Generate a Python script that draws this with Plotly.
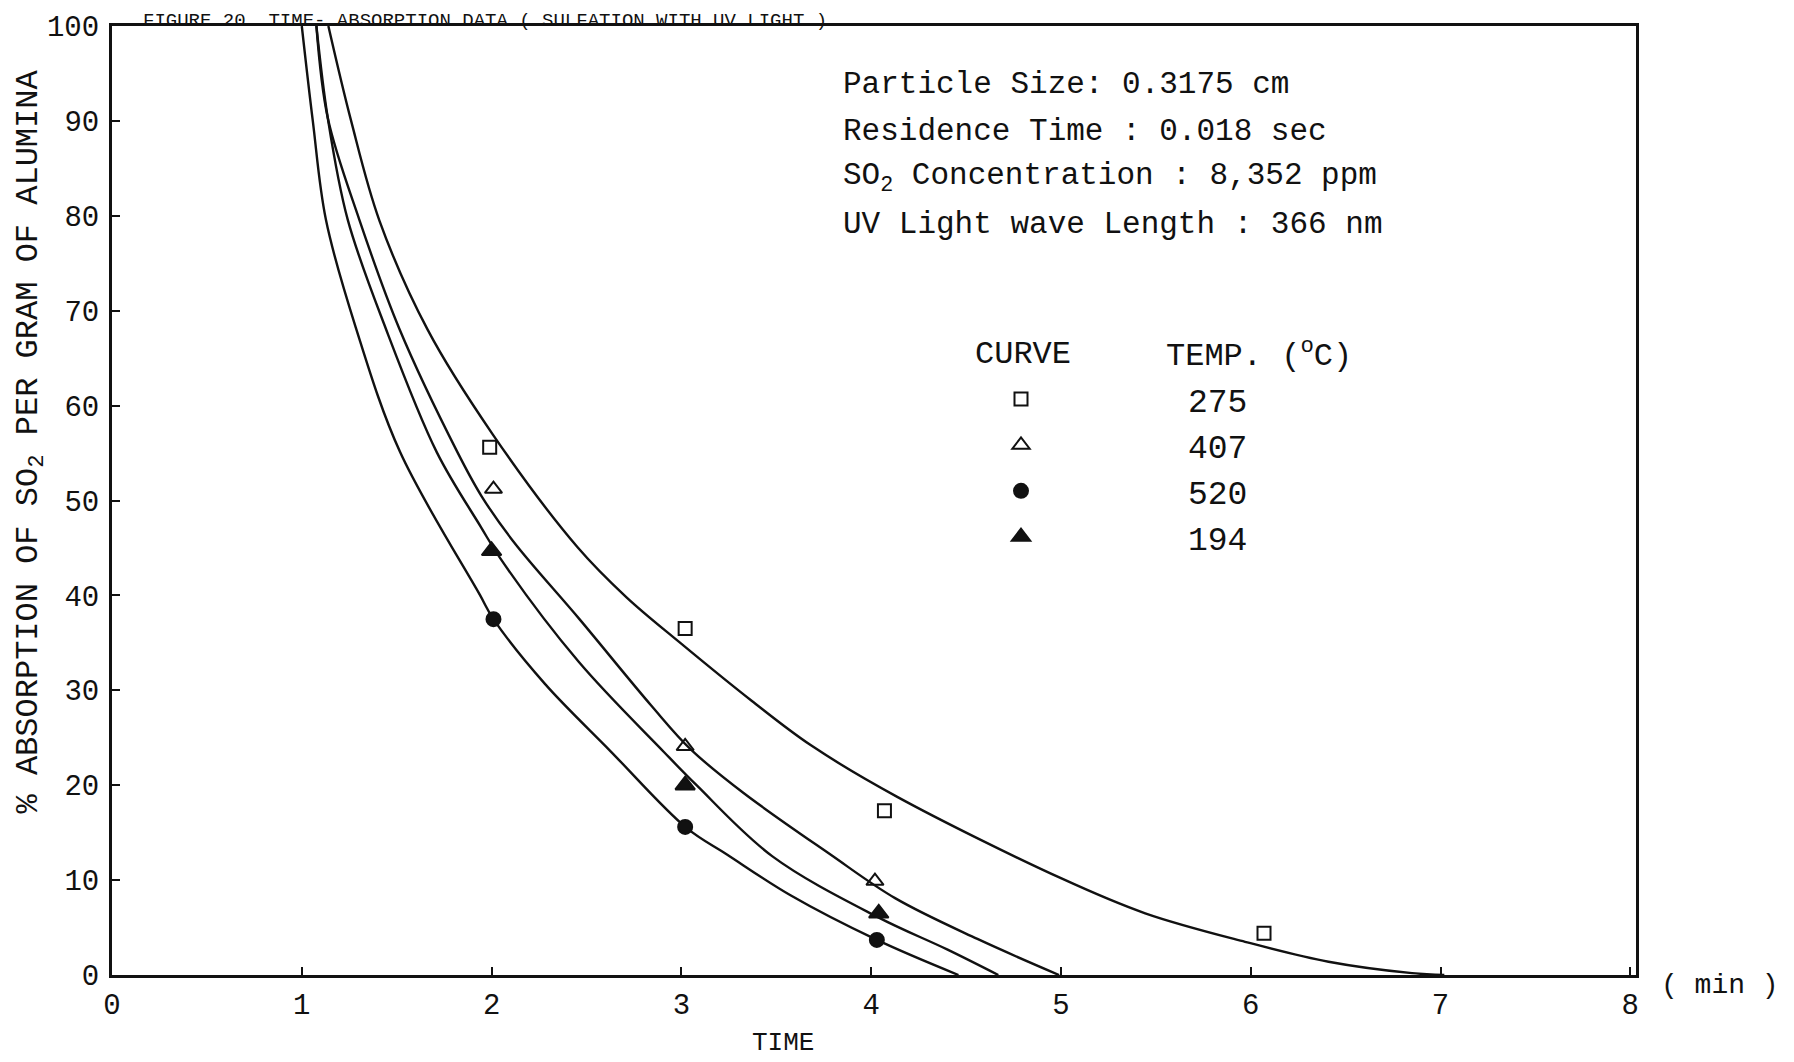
import plotly.graph_objects as go

# ---------------- data ----------------
# Smooth fitted curves (time in min, % absorption)
curve_275_x = [1.14, 1.26, 1.409, 1.663, 2.005, 2.452, 2.711, 2.988, 3.37, 3.683, 4.135, 5.0, 5.444, 5.97, 6.41, 6.85, 7.02]
curve_275_y = [100, 90.0, 79.5, 68.0, 57.0, 45.1, 39.8, 35.1, 28.9, 24.2, 18.8, 10.2, 6.5, 3.5, 1.4, 0.2, 0.0]

curve_407_x = [1.077, 1.137, 1.303, 1.514, 1.82, 1.946, 2.118, 2.463, 2.841, 3.048, 3.326, 3.778, 4.126, 4.56, 4.99]
curve_407_y = [100, 90.3, 79.6, 68.1, 55.1, 50.5, 45.6, 37.5, 28.4, 23.8, 19.2, 12.8, 8.1, 3.8, 0.0]

curve_194_x = [1.077, 1.137, 1.242, 1.443, 1.711, 1.944, 2.046, 2.459, 2.908, 3.08, 3.48, 4.035, 4.40, 4.67]
curve_194_y = [100, 90.3, 79.6, 68.1, 55.1, 47.2, 43.9, 33.0, 23.5, 20.0, 12.5, 6.1, 2.7, 0.0]

curve_520_x = [1.0, 1.058, 1.127, 1.285, 1.518, 1.937, 2.01, 2.28, 2.626, 3.027, 3.24, 3.575, 4.03, 4.46]
curve_520_y = [100, 90.0, 79.6, 68.2, 55.1, 40.1, 37.5, 30.7, 23.6, 15.5, 12.7, 8.4, 3.7, 0.0]

# Measured points
pts_275_x = [1.99, 3.02, 4.07, 6.07]
pts_275_y = [55.6, 36.5, 17.3, 4.4]
pts_407_x = [2.01, 3.02, 4.02]
pts_407_y = [51.2, 24.1, 9.9]
pts_520_x = [2.01, 3.02, 4.03]
pts_520_y = [37.5, 15.6, 3.7]
pts_194_x = [2.00, 3.02, 4.04]
pts_194_y = [44.7, 20.0, 6.5]

x_ticks = [0, 1, 2, 3, 4, 5, 6, 7, 8]
y_ticks = [0, 10, 20, 30, 40, 50, 60, 70, 80, 90, 100]

info_lines = [
    "Particle Size: 0.3175 cm",
    "Residence Time : 0.018 sec",
    "SO<sub>2</sub> Concentration : 8,352 ppm",
    "UV Light wave Length : 366 nm",
]

FONT = "Liberation Mono, Courier New, monospace"
INK = "#111111"

fig = go.Figure()

for cx, cy in [(curve_275_x, curve_275_y), (curve_407_x, curve_407_y),
               (curve_194_x, curve_194_y), (curve_520_x, curve_520_y)]:
    fig.add_trace(go.Scatter(x=cx, y=cy, mode="lines", showlegend=False,
                             line=dict(color=INK, width=2.4, shape="spline", smoothing=1.0),
                             hoverinfo="skip"))

marker_sets = [
    ("275", pts_275_x, pts_275_y, "square-open", 13),
    ("407", pts_407_x, pts_407_y, "triangle-up-open", 15),
    ("520", pts_520_x, pts_520_y, "circle", 14),
    ("194", pts_194_x, pts_194_y, "triangle-up", 17),
]
for name, px, py, sym, sz in marker_sets:
    fig.add_trace(go.Scatter(x=px, y=py, mode="markers", name=name,
                             marker=dict(symbol=sym, size=sz, color=INK,
                                         line=dict(color=INK, width=2))))

W, H = 1794, 1062
L, R, T, B = 112, 158, 18, 87
pw = W - L - R
ph = H - T - B


def px2paper_x(xp):
    return (xp - L) / pw


def px2paper_y(yp):
    return (H - B - yp) / ph


IW = 324
fig.update_layout(
    width=W, height=H,
    margin=dict(l=L, r=R, t=T, b=B),
    paper_bgcolor="white", plot_bgcolor="white",
    font=dict(family=FONT, color=INK, size=29),
    showlegend=True,
    legend=dict(
        x=px2paper_x(1022 - 6 - IW / 2), y=px2paper_y(366),
        xanchor="left", yanchor="top",
        bgcolor="rgba(0,0,0,0)",
        font=dict(family=FONT, size=33, color=INK),
        itemwidth=IW,
        tracegroupgap=0,
    ),
)

fig.update_xaxes(
    range=[0, 8.03], tickvals=x_ticks, ticktext=[str(v) for v in x_ticks],
    showline=True, linecolor=INK, linewidth=3, mirror=True,
    ticks="inside", ticklen=8, tickwidth=2, tickcolor=INK,
    showgrid=False, zeroline=False,
    tickfont=dict(family=FONT, size=29, color=INK),
    ticklabelstandoff=1,
)
fig.update_yaxes(
    range=[0, 100], tickvals=y_ticks, ticktext=[str(v) for v in y_ticks],
    showline=True, linecolor=INK, linewidth=3, mirror=True,
    ticks="inside", ticklen=8, tickwidth=2, tickcolor=INK,
    showgrid=False, zeroline=False,
    tickfont=dict(family=FONT, size=29, color=INK),
    ticklabelstandoff=4,
)

annotations = []
# info block
for i, line in enumerate(info_lines):
    annotations.append(dict(
        text=line, xref="paper", yref="paper",
        x=px2paper_x(841), y=px2paper_y(77 + 47 * i),
        xanchor="left", yanchor="middle", showarrow=False,
        font=dict(family=FONT, size=31, color=INK)))

# legend headers
annotations.append(dict(
    text="CURVE", xref="paper", yref="paper",
    x=px2paper_x(973), y=px2paper_y(349),
    xanchor="left", yanchor="middle", showarrow=False,
    font=dict(family=FONT, size=32, color=INK)))
annotations.append(dict(
    text="TEMP. (<sup>o</sup>C)", xref="paper", yref="paper",
    x=px2paper_x(1164), y=px2paper_y(349),
    xanchor="left", yanchor="middle", showarrow=False,
    font=dict(family=FONT, size=32, color=INK)))

# axis titles
annotations.append(dict(
    text="% ABSORPTION OF SO<sub>2</sub> PER GRAM OF ALUMINA",
    xref="paper", yref="paper", x=px2paper_x(30), y=px2paper_y(437),
    xanchor="center", yanchor="middle", textangle=-90, showarrow=False,
    font=dict(family=FONT, size=32, color=INK)))
annotations.append(dict(
    text="TIME", xref="paper", yref="paper",
    x=px2paper_x(783), y=px2paper_y(1044),
    xanchor="center", yanchor="middle", showarrow=False,
    font=dict(family=FONT, size=26, color=INK)))
annotations.append(dict(
    text="( min )", xref="paper", yref="paper",
    x=px2paper_x(1659), y=px2paper_y(986),
    xanchor="left", yanchor="middle", showarrow=False,
    font=dict(family=FONT, size=28, color=INK)))
# figure caption along the top edge of the scan
annotations.append(dict(
    text="FIGURE 20. TIME- ABSORPTION DATA ( SULFATION WITH UV LIGHT )",
    xref="paper", yref="paper", x=px2paper_x(141), y=px2paper_y(0),
    xanchor="left", yanchor="top", showarrow=False,
    font=dict(family=FONT, size=19, color=INK)))

fig.update_layout(annotations=annotations)

fig.write_html("out.html",
               config={"displayModeBar": False},
               post_script="document.body.style.margin='0';document.body.style.padding='0';")
